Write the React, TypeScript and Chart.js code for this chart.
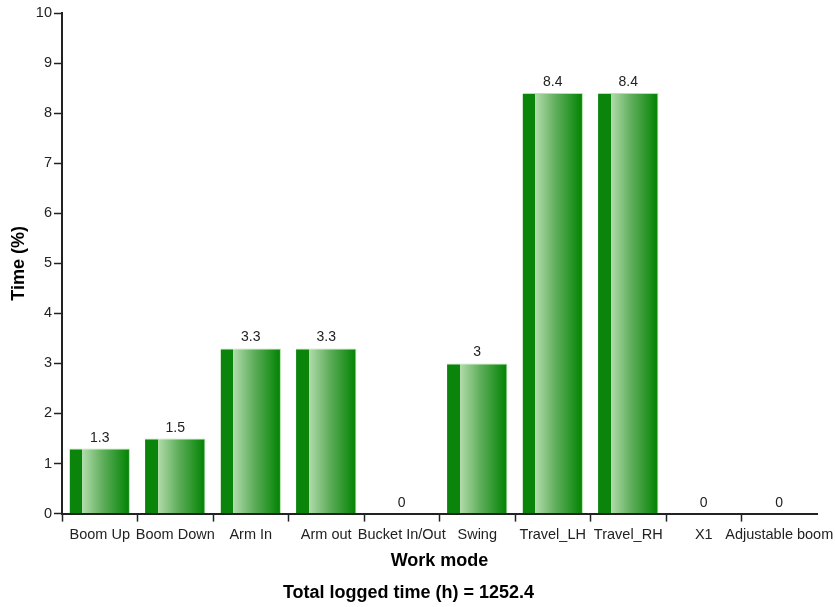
import React, { useEffect, useRef } from "react";
import { Chart, registerables } from "chart.js";

Chart.register(...registerables);

const categories = [
  "Boom Up",
  "Boom Down",
  "Arm In",
  "Arm out",
  "Bucket In/Out",
  "Swing",
  "Travel_LH",
  "Travel_RH",
  "X1",
  "Adjustable boom",
];
const timePercent = [1.3, 1.5, 3.3, 3.3, 0, 3, 8.4, 8.4, 0, 0];
const yTitle = "Time (%)";
const xTitle = "Work mode";
const footer = "Total logged time (h) = 1252.4";

const FONT = "Arial, 'Liberation Sans', Helvetica, sans-serif";
const DARK = "#0a840a";

const valueLabels = {
  id: "valueLabels",
  afterDatasetsDraw(chart: any) {
    const { ctx } = chart;
    const meta = chart.getDatasetMeta(0);
    const yScale = chart.scales.y;
    ctx.save();
    ctx.font = `14px ${FONT}`;
    ctx.fillStyle = "#222";
    ctx.textAlign = "center";
    ctx.textBaseline = "alphabetic";
    meta.data.forEach((bar: any, i: number) => {
      const v = timePercent[i];
      const x = chart.scales.x.getPixelForValue(i);
      const y = yScale.getPixelForValue(v);
      ctx.fillText(String(v), x, y - 7);
    });
    ctx.restore();
  },
};

export default function App() {
  const ref = useRef<HTMLCanvasElement | null>(null);
  useEffect(() => {
    if (!ref.current) return;
    const chart = new Chart(ref.current, {
      type: "bar",
      data: {
        labels: categories,
        datasets: [
          {
            data: timePercent,
            backgroundColor: (ctx: any) => {
              const c = ctx.chart;
              const xs = c.scales?.x;
              if (!xs || !c.chartArea || ctx.dataIndex === undefined) return DARK;
              const cx = xs.getPixelForValue(ctx.dataIndex);
              const w = (xs.width / categories.length) * 0.8;
              const g = c.ctx.createLinearGradient(cx - w / 2, 0, cx + w / 2, 0);
              g.addColorStop(0, "#0a840a");
              g.addColorStop(0.21, "#0a840a");
              g.addColorStop(0.211, "#b2dcab");
              g.addColorStop(0.55, "#5fae5c");
              g.addColorStop(0.95, "#0a870a");
              g.addColorStop(1, "#0a870a");
              return g;
            },
            borderColor: "rgba(170,225,165,0.9)",
            borderWidth: { top: 1, right: 1, left: 0, bottom: 0 },
            borderSkipped: false,
            barPercentage: 0.8,
            categoryPercentage: 1,
          },
        ],
      },
      options: {
        animation: false,
        responsive: false,
        maintainAspectRatio: false,
        layout: { padding: { left: 0, top: 13, right: 18, bottom: 0 } },
        plugins: {
          legend: { display: false },
          tooltip: { enabled: false },
          title: {
            display: true,
            position: "bottom",
            text: footer,
            color: "#000",
            font: { family: FONT, size: 18, weight: "bold" },
            padding: { top: 9, bottom: 3 },
          },
        },
        scales: {
          x: {
            offset: true,
            grid: {
              display: true,
              drawOnChartArea: false,
              drawTicks: true,
              tickLength: 8,
              tickWidth: 1.5,
              tickColor: (c: any) => (c.index === undefined ? "rgba(0,0,0,0)" : "#222"),
              offset: true,
            },
            border: { display: true, color: "#222", width: 2 },
            ticks: {
              color: "#222",
              font: { family: FONT, size: 14.5 },
              padding: 5,
              maxRotation: 0,
              autoSkip: false,
            },
            title: {
              display: true,
              text: xTitle,
              color: "#000",
              font: { family: FONT, size: 18, weight: "bold" },
              padding: { top: 0, bottom: 2 },
            },
            afterFit: (s: any) => {
              s.height = 59.8;
              s.paddingLeft = 0;
              s.paddingRight = 0;
            },
          },
          y: {
            min: 0,
            max: 10,
            grid: {
              display: true,
              drawOnChartArea: false,
              drawTicks: true,
              tickLength: 8,
              tickWidth: 1.5,
              tickColor: "#222",
            },
            border: { display: true, color: "#222", width: 2 },
            ticks: {
              stepSize: 1,
              color: "#222",
              font: { family: FONT, size: 14.5 },
              padding: 2,
            },
            title: {
              display: true,
              text: yTitle,
              color: "#000",
              font: { family: FONT, size: 18, weight: "bold" },
              padding: { top: 8, bottom: 0 },
            },
            afterFit: (s: any) => {
              s.width = 62;
              s.paddingTop = 0;
              s.paddingBottom = 0;
            },
          },
        },
      },
      plugins: [valueLabels],
    } as any);
    return () => chart.destroy();
  }, []);
  return (
    <div style={{ position: "fixed", left: 0, top: 0, width: 835, height: 607, background: "#fff" }}>
      <canvas ref={ref} width={835} height={607} style={{ width: 835, height: 607 }} />
    </div>
  );
}
